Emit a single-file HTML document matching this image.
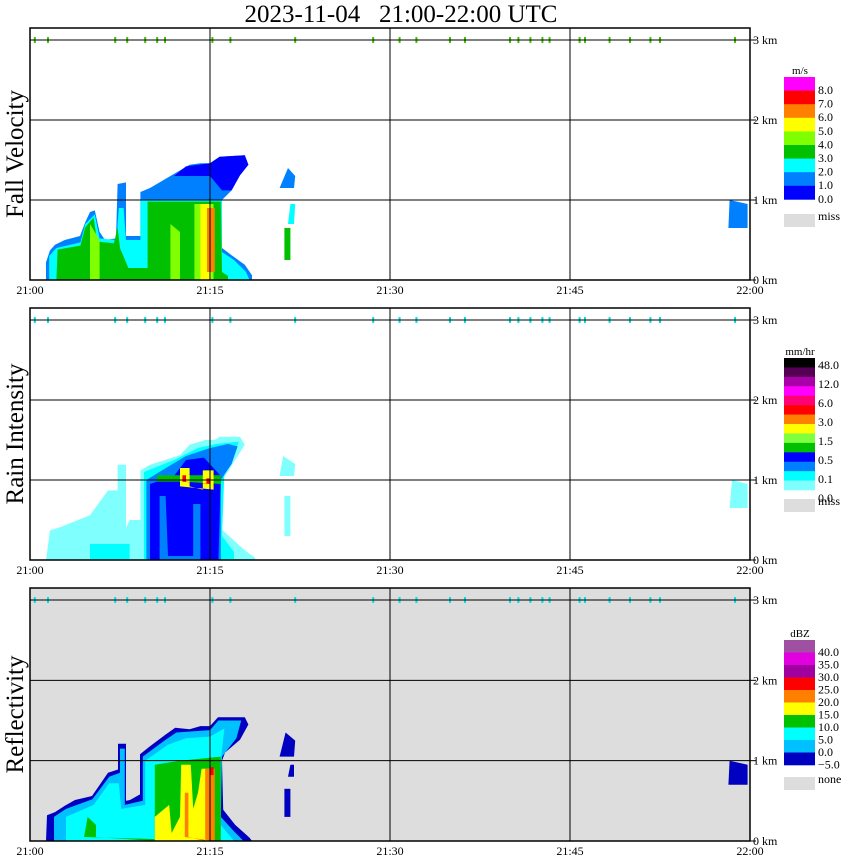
<!DOCTYPE html>
<html><head><meta charset="utf-8"><style>
html,body{margin:0;padding:0;background:#fff;}
svg{display:block;font-family:"Liberation Serif",serif;}
</style></head><body>
<svg id="chart" width="850" height="868" viewBox="0 0 850 868" xmlns="http://www.w3.org/2000/svg">
<text x="401" y="22" text-anchor="middle" font-size="25">2023-11-04&#160;&#160;&#160;21:00-22:00 UTC</text>
<g id="panels"></g>
</svg>
<script>
const timeTicks=["21:00","21:15","21:30","21:45","22:00"];
const tickMinutes=[0,15,30,45,60];
const heightTicks=[0,1,2,3];
const panelTitles=["Fall Velocity","Rain Intensity","Reflectivity"];
const clutterMinutes=[0.4,1.5,7.1,8.1,9.6,10.6,11.25,15.2,16.7,22.1,28.6,30.8,32.2,35,36.25,40,40.7,41.7,42.7,43.3,45.8,46.25,48.3,50,51.7,52.5,58.75];

// Fall velocity layers: [minute, km]
const fvSky=[[1.33,0],[1.33,0.22],[1.67,0.37],[2.08,0.44],[2.9,0.5],[4.17,0.55],[4.6,0.72],[5,0.85],[5.4,0.87],[5.8,0.6],[6.25,0.5],[7.17,0.52],[7.3,1.2],[8.0,1.22],[8.0,0.55],[9.2,0.55],[9.2,1.1],[10,1.15],[10.8,1.22],[11.7,1.3],[12.5,1.37],[13.3,1.44],[14.2,1.46],[15,1.46],[15.8,1.54],[17.9,1.56],[18.2,1.44],[17.5,1.31],[16.8,1.12],[16,1.0],[16,0.4],[16.8,0.31],[17.9,0.19],[18.5,0.06],[18.5,0]];
const fvBlue=[[12,1.3],[13,1.42],[15,1.46],[15.8,1.54],[17.9,1.56],[18.2,1.44],[17.5,1.31],[16.8,1.12],[16,1.12],[15,1.3],[13,1.3]];
const fvCyan=[[1.6,0],[1.6,0.3],[2.2,0.4],[4.2,0.47],[4.6,0.7],[5.4,0.82],[5.8,0.52],[7.2,0.5],[7.4,0.9],[7.8,0.9],[8,0.5],[9.2,0.5],[9.2,1.0],[16,1.0],[16,0.35],[17,0.25],[18,0.1],[18.3,0]];
const fvGreen=[[2.2,0],[2.3,0.38],[4.2,0.43],[4.6,0.66],[5.3,0.78],[5.6,0.48],[7.0,0.46],[7.3,0.66],[7.5,0.4],[8.2,0.15],[9.8,0.15],[9.8,0.98],[15.9,0.98],[16,0.1],[16.5,0.05],[16.5,0]];
const fvLightGreen=[[5,0],[5,0.7],[5.8,0.5],[5.8,0],[11.7,0],[11.7,0.7],[12.5,0.6],[12.5,0],[13.7,0],[13.7,0.95],[15.3,0.95],[15.3,0]];
const fvYellow=[[14.2,0],[14.2,0.95],[15.1,0.95],[15.1,0]];
const fvOrange=[[14.75,0.1],[14.75,0.9],[15.4,0.9],[15.4,0.1]];
const fvIso1=[[20.8,1.15],[21.5,1.4],[22.1,1.3],[22.0,1.15]];
const fvIso2=[[21.5,0.7],[21.7,0.95],[22.1,0.95],[22.0,0.7]];
const fvIso3=[[21.2,0.25],[21.2,0.65],[21.7,0.65],[21.7,0.25]];
const fvIso4=[[58.2,0.65],[58.3,1.0],[59.8,0.95],[59.8,0.65]];

// Rain intensity layers
const riLightCyan=[[1.33,0],[1.67,0.37],[2.5,0.41],[5,0.56],[6.5,0.87],[7.3,0.87],[7.3,1.19],[8,1.19],[8,0.4],[8.3,0.5],[9.2,0.5],[9.2,1.12],[10,1.19],[12.5,1.31],[13.3,1.44],[14.6,1.5],[15.4,1.5],[15.8,1.54],[17.5,1.54],[17.9,1.44],[17.1,1.25],[16.3,1.06],[16,1.0],[16,0.38],[17.9,0.12],[18.75,0.03],[18.75,0]];
const riCyan=[[5,0],[5,0.2],[8.3,0.2],[8.3,0],[9.5,0],[9.5,1.1],[12,1.25],[14,1.4],[15.5,1.45],[17.4,1.48],[17,1.3],[16.2,1.1],[16,0.3],[17,0.1],[17,0]];
const riSky=[[9.7,0],[9.7,1.0],[11,1.12],[13,1.3],[15,1.4],[16.5,1.45],[17.3,1.42],[16.8,1.2],[15.9,1.0],[15.9,0]];
const riBlue=[[10.0,0],[10.0,0.95],[12,1.05],[13,1.25],[14.5,1.28],[15.9,1.05],[15.7,0],[14.2,0],[14.2,0.7],[13.6,0.7],[13.6,0.05],[11.5,0.05],[11.3,0.8],[10.8,0.8],[10.8,0]];
const riGreen=[[10.6,0.98],[10.6,1.06],[15.9,1.06],[15.9,0.95],[12.6,0.98]];
const riYellow=[[12.5,0.92],[12.5,1.15],[13.3,1.15],[13.3,0.92],[14.4,0.88],[14.4,1.12],[15.3,1.12],[15.3,0.88]];
const riRed=[[12.7,0.98],[12.7,1.06],[13.0,1.06],[13.0,0.98],[14.7,0.95],[14.7,1.02],[15.0,1.02],[15.0,0.95]];
const riIso1=[[20.8,1.05],[21.1,1.3],[22.1,1.2],[22.0,1.05]];
const riIso2=[[21.2,0.3],[21.2,0.8],[21.7,0.8],[21.7,0.3]];
const riIso3=[[58.3,0.65],[58.5,1.0],[59.8,0.95],[59.8,0.65]];

// Reflectivity layers
const rfDark=[[1.33,0],[1.42,0.32],[2.08,0.36],[2.9,0.44],[3.75,0.51],[4.6,0.54],[5.17,0.56],[6.5,0.85],[7.33,0.89],[7.33,1.21],[8.0,1.21],[8.0,0.5],[8.33,0.51],[9.17,0.58],[9.17,1.08],[10,1.18],[11.25,1.32],[12.1,1.41],[13.3,1.39],[14.2,1.43],[15,1.43],[15.67,1.54],[17.9,1.54],[18.2,1.45],[17.5,1.26],[16.25,1.1],[16,1.0],[16.1,0.39],[17.1,0.2],[18.3,0.04],[18.5,0]];
const rfSky=[[2.0,0],[2.0,0.3],[3.0,0.4],[5.2,0.52],[6.6,0.8],[7.5,0.85],[7.5,1.15],[7.9,1.15],[7.9,0.45],[9.4,0.5],[9.4,1.05],[11.2,1.25],[12.2,1.35],[15,1.38],[15.7,1.5],[17.6,1.5],[17.2,1.28],[16,1.05],[15.9,0.3],[17,0.12],[17.8,0]];
const rfCyan=[[3.0,0],[3.0,0.3],[5.3,0.45],[6.6,0.72],[7.4,0.72],[7.6,0.4],[9.6,0.45],[9.6,1.0],[11.5,1.2],[13,1.28],[15,1.3],[16.2,1.4],[15.9,1.0],[15.9,0.2],[17,0]];
const rfGreen=[[4.5,0.05],[4.8,0.3],[5.5,0.2],[5.5,0.05],[10.4,0],[10.4,0.95],[12.5,1.0],[15.9,1.05],[15.9,0]];
const rfYellow=[[10.4,0],[10.4,0.3],[11.6,0.45],[11.8,0.1],[12.5,0.3],[12.6,0.95],[13.4,0.95],[13.6,0.4],[14.0,0.6],[14.3,0.9],[15.3,0.9],[15.3,0]];
const rfOrange=[[12.9,0.05],[12.9,0.6],[13.2,0.6],[13.2,0.05],[14.6,0],[14.6,0.9],[15.4,0.9],[15.4,0]];
const rfRed=[[15.0,0.82],[15.0,0.92],[15.3,0.92],[15.3,0.82]];
const rfIso1=[[20.8,1.05],[21.3,1.35],[22.1,1.25],[22.0,1.05]];
const rfIso2=[[21.5,0.8],[21.7,0.95],[22.0,0.95],[22.0,0.8]];
const rfIso3=[[21.2,0.3],[21.2,0.65],[21.7,0.65],[21.7,0.3]];
const rfIso4=[[58.2,0.7],[58.3,1.0],[59.8,0.95],[59.8,0.7]];

const fvBarColors=["#ff00ff","#ff0000","#ff8000","#ffff00","#80ff00","#00c000","#00ffff","#0080ff","#0000ff"];
const fvBarLabels=["8.0","7.0","6.0","5.0","4.0","3.0","2.0","1.0","0.0"];
const riBarColors=["#000000","#550055","#aa00aa","#ff00ff","#ff0077","#ff0000","#ff8000","#ffff00","#80ff40","#00c000","#0000ff","#0080ff","#00ffff","#80ffff"];
const riBarLabels=["48.0","12.0","6.0","3.0","1.5","0.5","0.1","0.0"];
const rfBarColors=["#a050a0","#e000e0","#a000a0","#ff0000","#ff8000","#ffff00","#00c000","#00ffff","#00c0ff","#0000c0"];
const rfBarLabels=["40.0","35.0","30.0","25.0","20.0","15.0","10.0","5.0","0.0","−5.0"];

const NS="http://www.w3.org/2000/svg";
const root=document.getElementById('panels');
const panels=[{top:28,base:280,bg:"#ffffff"},{top:308,base:560,bg:"#ffffff"},{top:588,base:841,bg:"#dddddd"}];
function xs(t){return 30+t*12;}
function ys(p,h){return panels[p].base-h*(panels[p].base-panels[p].top-12)/3;}
function mk(tag,attrs){const e=document.createElementNS(NS,tag);for(const k in attrs)e.setAttribute(k,attrs[k]);root.appendChild(e);return e;}
function poly(p,pts,color){
  const e=mk('polygon',{points:pts.map(q=>xs(q[0]).toFixed(1)+','+ys(p,q[1]).toFixed(1)).join(' '),fill:color});
  
  
}
const layers=[
 [0,fvSky,"#0080ff"],[0,fvBlue,"#0000ff"],[0,fvCyan,"#00ffff"],[0,fvGreen,"#00c000"],[0,fvLightGreen,"#80ff00"],[0,fvYellow,"#ffff00"],[0,fvOrange,"#ff8000"],
 [0,fvIso1,"#0080ff"],[0,fvIso2,"#00ffff"],[0,fvIso3,"#00c000"],[0,fvIso4,"#0080ff"],
 [1,riLightCyan,"#80ffff"],[1,riCyan,"#00ffff"],[1,riSky,"#0080ff"],[1,riBlue,"#0000ff"],[1,riGreen,"#00c000"],[1,riYellow,"#ffff00"],[1,riRed,"#ff0000"],
 [1,riIso1,"#80ffff"],[1,riIso2,"#80ffff"],[1,riIso3,"#80ffff"],
 [2,rfDark,"#0000c0"],[2,rfSky,"#00c0ff"],[2,rfCyan,"#00ffff"],[2,rfGreen,"#00c000"],[2,rfYellow,"#ffff00"],[2,rfOrange,"#ff8000"],[2,rfRed,"#ff0000"],
 [2,rfIso1,"#0000c0"],[2,rfIso2,"#0000c0"],[2,rfIso3,"#0000c0"],[2,rfIso4,"#0000c0"]
];
const clutterColors=["#40c000","#00e0e0","#00e0e0"];
panels.forEach((P,p)=>{
  const bg=mk('rect',{x:30,y:P.top,width:720,height:P.base-P.top,fill:P.bg});
  
  
  layers.filter(l=>l[0]===p).forEach(l=>poly(p,l[1],l[2]));
  clutterMinutes.forEach(m=>{
    const c=mk('rect',{x:xs(m)-1,y:ys(p,3)-3,width:2,height:6,fill:clutterColors[p]});
    
    
  });
  heightTicks.forEach(h=>{
    if(h>0&&h<=3){const g=mk('line',{x1:30,x2:750,y1:ys(p,h),y2:ys(p,h),stroke:'#000','stroke-width':1});
      
      }
    const tk=mk('line',{x1:750,x2:756,y1:ys(p,h),y2:ys(p,h),stroke:'#000'});
    
    
    const lab=mk('text',{x:753,y:ys(p,h)+4,'font-size':12});
    lab.textContent=h+' km';
    
    
  });
  tickMinutes.forEach((m,i)=>{
    if(i>0&&i<4){const g=mk('line',{x1:xs(m),x2:xs(m),y1:P.top,y2:P.base,stroke:'#000'});
      
      }
    const lab=mk('text',{x:xs(m),y:P.base+14,'font-size':12,'text-anchor':'middle'});
    lab.textContent=timeTicks[i];
    
    
  });
  const fr=mk('rect',{x:30,y:P.top,width:720,height:P.base-P.top,fill:'none',stroke:'#000','stroke-width':1.5});
  
  
  const yt=mk('text',{x:0,y:0,'font-size':25,'text-anchor':'middle',transform:'translate(23,'+((P.top+P.base)/2)+') rotate(-90)'});
  yt.textContent=panelTitles[p];
  
  
});
function colorbar(colors,labels,top,segH,labelStart,labelStep,unit,missTop,missLabel){
  const u=mk('text',{x:800,y:top-3,'font-size':11,'text-anchor':'middle'});
  u.textContent=unit;
  
  
  colors.forEach((c,i)=>{
    const r=mk('rect',{x:784,y:top+i*segH,width:31,height:segH+0.3,fill:c});
    
    
  });
  labels.forEach((l,i)=>{
    const t=mk('text',{x:818,y:labelStart+i*labelStep+4,'font-size':12});
    t.textContent=l;
    
    
  });
  const m=mk('rect',{x:784,y:missTop,width:31,height:13,fill:'#dddddd'});
  
  
  const ml=mk('text',{x:818,y:missTop+6,'font-size':12});
  ml.textContent=missLabel;
  
  
}
colorbar(fvBarColors,fvBarLabels,77,13.6,90,13.6,'m/s',214,'miss');
colorbar(riBarColors,riBarLabels,358,9.43,365,19,'mm/hr',499,'miss');
colorbar(rfBarColors,rfBarLabels,640,12.5,652,12.5,'dBZ',777,'none');
</script>
</body></html>
